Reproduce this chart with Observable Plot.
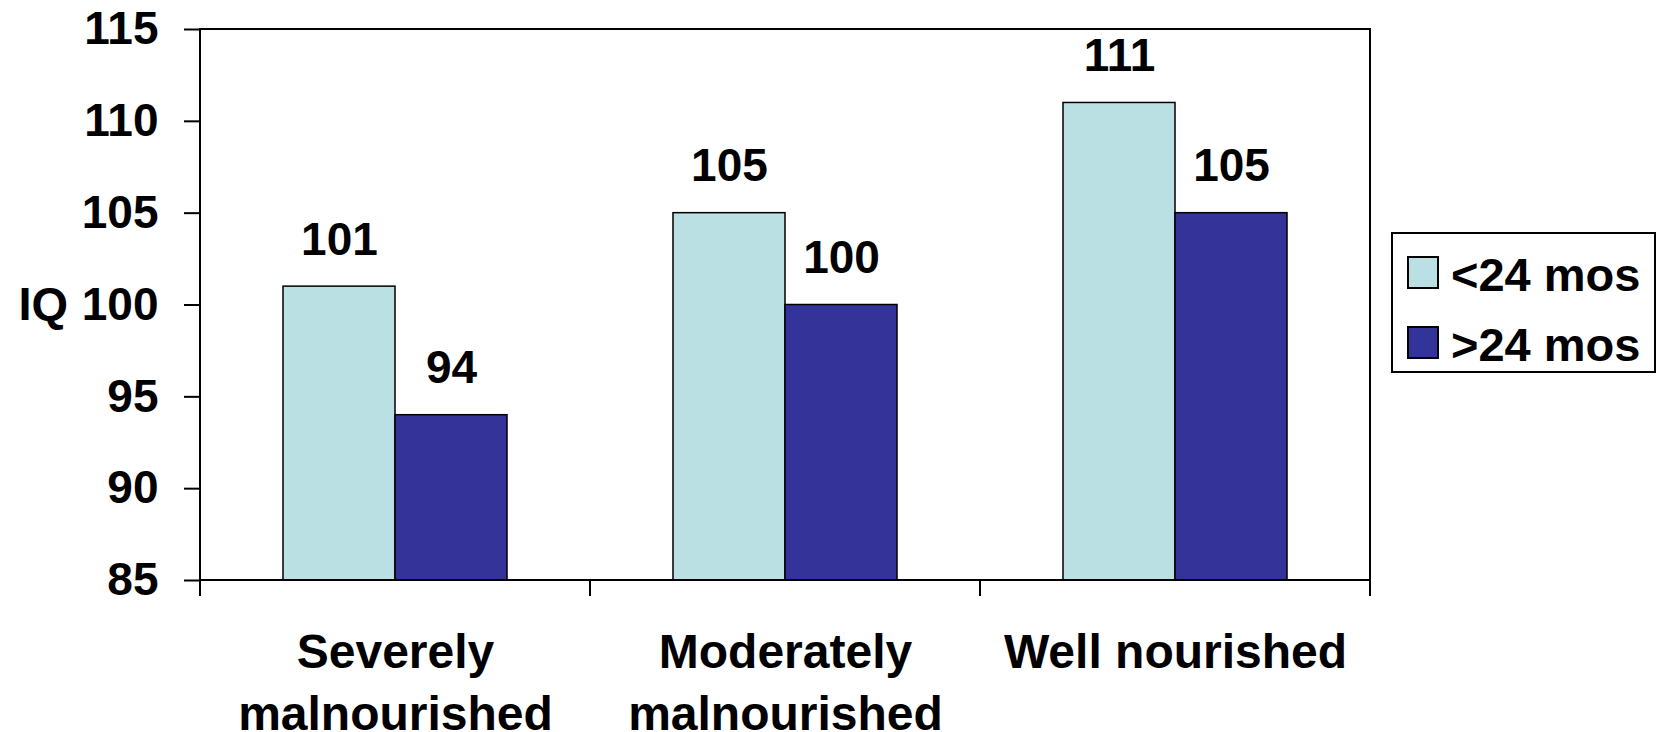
<!DOCTYPE html>
<html>
<head>
<meta charset="utf-8">
<script src="https://cdn.jsdelivr.net/npm/d3@7"></script>
<script src="https://cdn.jsdelivr.net/npm/@observablehq/plot@0.6"></script>
<style>
  html, body { margin: 0; padding: 0; background: #ffffff; }
  #chart { position: relative; width: 1658px; height: 732px; overflow: hidden; }
</style>
</head>
<body>
<div id="chart"></div>
<script>
// ---- data ----
const categories = ["Severely malnourished", "Moderately malnourished", "Well nourished"];
const categoryLabels = ["Severely\nmalnourished", "Moderately\nmalnourished", "Well nourished"];
const series = ["<24 mos", ">24 mos"];
const under24 = [101, 105, 111];
const over24 = [94, 100, 105];
const yTicks = [85, 90, 95, 100, 105, 110, 115];
const yTitle = "IQ";
const colors = ["#BAE0E3", "#333399"];

const data = categories.flatMap((c, i) => [
  {category: c, series: series[0], value: under24[i]},
  {category: c, series: series[1], value: over24[i]}
]);
const labelOf = new Map(categories.map((c, i) => [c, categoryLabels[i]]));
const yMin = yTicks[0], yMax = yTicks[yTicks.length - 1];

const font = "'Liberation Sans', Arial, Helvetica, sans-serif";

const plot = Plot.plot({
  width: 1658,
  height: 732,
  marginLeft: 200,
  marginRight: 288,
  marginTop: 29,
  marginBottom: 152,
  style: {fontFamily: font, fontSize: "46px", fontWeight: "bold", color: "#000", background: "#fff", overflow: "visible"},
  fx: {domain: categories, padding: 0, label: null},
  x: {domain: series, paddingInner: 0, paddingOuter: 0.741, axis: null, round: false},
  y: {domain: [yMin, yMax], label: null},
  color: {domain: series, range: colors},
  marks: [
    Plot.barY(data, {fx: "category", x: "series", y1: yMin, y2: "value", fill: "series", stroke: "#000", strokeWidth: 1.5}),
    Plot.text(data, {fx: "category", x: "series", y: "value", text: d => String(d.value), lineAnchor: "bottom", dy: -32, fill: "#000"}),
    Plot.text([yTitle], {fx: [categories[0]], y: [100], text: d => d, frameAnchor: "left", textAnchor: "start", dx: -182, fontSize: 47, fill: "#000"}),
    Plot.axisY({ticks: yTicks, tickSize: 16, tickPadding: 26, strokeWidth: 2, label: null, tickFormat: d => String(d)}),
    Plot.axisFx({anchor: "bottom", tickSize: 0, tickPadding: 44, lineHeight: 1.29, fontSize: 48, label: null, tickFormat: d => labelOf.get(d)})
  ]
});

document.getElementById("chart").appendChild(plot);

// frame, category boundary ticks and legend, positioned from the plot's scales
const svg = d3.select(plot);
const fx = plot.scale("fx");
const ys = plot.scale("y");
const col = plot.scale("color");
const x0 = fx.range[0], x1 = fx.range[1];
const yTop = ys.apply(yMax), yBot = ys.apply(yMin);

svg.append("path")
  .attr("d", `M${x0},${yTop}H${x1}V${yBot}H${x0}Z`)
  .attr("fill", "none").attr("stroke", "#000").attr("stroke-width", 2);

const edges = categories.map(c => fx.apply(c)).concat([x1]);
svg.append("g").selectAll("line").data(edges).join("line")
  .attr("x1", d => d).attr("x2", d => d)
  .attr("y1", yBot).attr("y2", yBot + 16)
  .attr("stroke", "#000").attr("stroke-width", 2);

// legend
const lg = svg.append("g").attr("text-anchor", "start");
lg.append("rect").attr("x", 1392).attr("y", 233).attr("width", 263).attr("height", 139)
  .attr("fill", "#fff").attr("stroke", "#000").attr("stroke-width", 2);
series.forEach((s, i) => {
  lg.append("rect").attr("x", 1408).attr("y", 257 + i * 70).attr("width", 30).attr("height", 31)
    .attr("fill", col.apply(s)).attr("stroke", "#000").attr("stroke-width", 2);
  lg.append("text").attr("x", 1451).attr("y", 291 + i * 70).text(s)
    .attr("text-anchor", "start")
    .attr("fill", "#000").attr("font-size", "47px").attr("font-weight", "bold").attr("font-family", font);
});
</script>
</body>
</html>
